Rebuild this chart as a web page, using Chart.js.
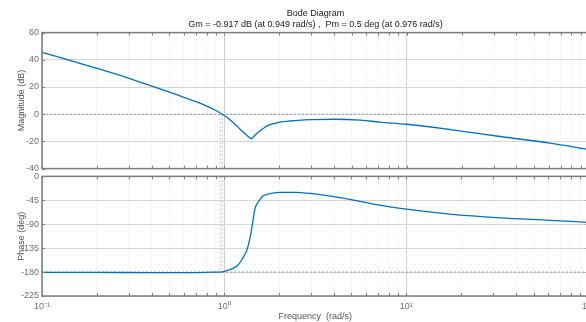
<!DOCTYPE html>
<html>
<head>
<meta charset="utf-8">
<script src="https://cdn.jsdelivr.net/npm/chart.js@4"></script>
<style>
  html, body { margin: 0; padding: 0; background: #fff; overflow: hidden; width: 586px; height: 322px; }
  #magCanvas { position: absolute; left: 0; top: 0; }
  #phaseCanvas { position: absolute; left: 0; top: 168px; }
</style>
</head>
<body>
<canvas id="magCanvas" width="600" height="177"></canvas>
<canvas id="phaseCanvas" width="600" height="155"></canvas>
<script>
// frequencies (rad/s) and values
var magFreq = [0.1, 0.15, 0.2, 0.3, 0.4, 0.5, 0.6, 0.7, 0.8, 0.9, 0.949, 0.976, 1.05, 1.145, 1.22, 1.3, 1.36, 1.413, 1.46, 1.54, 1.64, 1.74, 1.9, 2.06, 2.3, 2.54, 3.05, 4.0, 5.6, 7.1, 10, 17.3, 32.5, 61, 100];
var magDb   = [45.5, 38.6, 33.7, 26.4, 20.6, 16.2, 12.4, 9.2, 6.0, 2.7, 0.9, 0.0, -2.9, -7.4, -11.0, -14.4, -16.7, -18.1, -16.0, -13.1, -10.3, -8.2, -6.7, -5.7, -5.0, -4.5, -4.0, -3.7, -4.4, -5.8, -7.4, -11.3, -16.4, -21.3, -26.0];

var phaseFreq = [0.1, 0.2, 0.4, 0.6, 0.8, 0.9, 0.976, 1.05, 1.145, 1.2, 1.24, 1.29, 1.33, 1.36, 1.39, 1.43, 1.47, 1.5, 1.54, 1.63, 1.72, 1.81, 2.06, 2.44, 3.05, 4.0, 4.9, 7.1, 10, 17.3, 32.5, 61, 100];
var phaseDeg  = [-180.4, -180.7, -181.0, -181.0, -180.6, -180.0, -179.5, -176.5, -171.2, -165.5, -158.5, -148.5, -139.5, -128.0, -114.0, -89.0, -63.6, -54.0, -47.8, -37.0, -33.8, -32.0, -30.2, -30.0, -32.5, -38.0, -43.3, -54.0, -61.7, -71.0, -78.0, -82.6, -86.5];

var xMajorValues = [0.1, 1, 10, 100];
var xTickLabels = ['10\u207B\u00B9', '10\u2070', '10\u00B9', '10\u00B2'];
var gmFreq = 0.949;
var pmFreq = 0.976;

var blue = '#0072BD';
var font = "'Liberation Sans', Arial, sans-serif";

function isMajor(v) {
  var l = Math.log10(v);
  return Math.abs(l - Math.round(l)) < 1e-6;
}

// 1..9 x 10^n grid positions between 0.1 and 100
var xGridValues = [];
for (var e = -1; e < 2; e++) {
  for (var k = 1; k < 10; k++) xGridValues.push(+(k * Math.pow(10, e)).toPrecision(3));
}
xGridValues.push(100);

function pts(xs, ys) {
  return xs.map(function(x, i) { return {x: x, y: ys[i]}; });
}

var boxPlugin = {
  id: 'box',
  afterDraw: function(chart) {
    var ctx = chart.ctx, a = chart.chartArea, sx = chart.scales.x, sy = chart.scales.y;
    ctx.save();
    ctx.strokeStyle = '#7d7d7d';
    ctx.lineWidth = 1;
    ctx.beginPath();
    sx.ticks.forEach(function(t) {
      var px = Math.round(sx.getPixelForValue(t.value)) + 0.5;
      ctx.moveTo(px, a.top); ctx.lineTo(px, a.top + 3);
      ctx.moveTo(px, a.bottom); ctx.lineTo(px, a.bottom - 3);
    });
    sy.ticks.forEach(function(t) {
      var py = Math.round(sy.getPixelForValue(t.value)) + 0.5;
      ctx.moveTo(a.left, py); ctx.lineTo(a.left + 3, py);
      ctx.moveTo(a.right, py); ctx.lineTo(a.right - 3, py);
    });
    ctx.stroke();
    ctx.lineWidth = 1.5;
    ctx.strokeRect(a.left, a.top, a.right - a.left, a.bottom - a.top);
    ctx.restore();
  }
};

function xScale(showLabels, height) {
  return {
    type: 'logarithmic',
    min: 0.1,
    max: 100,
    afterBuildTicks: function(s) {
      s.ticks = xGridValues.map(function(v) { return {value: v, major: isMajor(v)}; });
    },
    afterFit: function(s) { s.height = height; },
    grid: {
      drawTicks: false,
      color: function(c) { return c.tick && isMajor(c.tick.value) ? '#cfcfcf' : '#e4e4e4'; }
    },
    border: {
      display: false,
      dash: function(c) { return c.tick && !isMajor(c.tick.value) ? [1, 2] : []; }
    },
    ticks: {
      display: showLabels,
      autoSkip: false,
      maxRotation: 0,
      padding: 5,
      color: '#6e6e6e',
      font: {family: font, size: 9},
      callback: function(v) {
        var i = xMajorValues.findIndex(function(m) { return Math.abs(m - v) < 1e-9; });
        return i >= 0 ? xTickLabels[i] : '';
      }
    },
    title: {
      display: showLabels,
      text: 'Frequency  (rad/s)',
      color: '#555',
      font: {family: font, size: 9},
      padding: {top: 0, bottom: 1}
    }
  };
}

function yScale(min, max, step, label) {
  return {
    min: min,
    max: max,
    afterFit: function(s) { s.width = 42; },
    grid: {drawTicks: false, color: '#d6d6d6'},
    border: {display: false},
    ticks: {
      stepSize: step,
      padding: 3,
      color: '#6e6e6e',
      font: {family: font, size: 9}
    },
    title: {
      display: true,
      text: label,
      color: '#555',
      font: {family: font, size: 9},
      padding: {top: 16, bottom: 0}
    }
  };
}

new Chart(document.getElementById('magCanvas').getContext('2d'), {
  type: 'line',
  data: {
    datasets: [{
      data: pts(magFreq, magDb),
      borderColor: blue,
      borderWidth: 1.3,
      pointRadius: 0,
      cubicInterpolationMode: 'monotone'
    }, {
      data: [{x: 0.1, y: 0}, {x: 100, y: 0}],
      borderColor: '#9a9a9a',
      borderWidth: 1,
      borderDash: [2, 2],
      pointRadius: 0
    }, {
      data: [{x: gmFreq, y: 0}, {x: gmFreq, y: -40}],
      borderColor: '#c4c4c4',
      borderWidth: 1,
      borderDash: [2, 2],
      pointRadius: 0
    }, {
      data: [{x: pmFreq, y: 0}, {x: pmFreq, y: -40}],
      borderColor: '#c4c4c4',
      borderWidth: 1,
      borderDash: [2, 2],
      pointRadius: 0
    }]
  },
  options: {
    responsive: false,
    animation: false,
    layout: {padding: {left: 0, right: 11, top: 0, bottom: 0}},
    plugins: {
      legend: {display: false},
      tooltip: {enabled: false},
      title: {
        display: true,
        fullSize: false,
        text: 'Bode Diagram',
        color: '#1a1a1a',
        font: {family: font, size: 9, weight: 'normal'},
        padding: {top: 8, bottom: 0}
      },
      subtitle: {
        display: true,
        fullSize: false,
        text: 'Gm = -0.917 dB (at 0.949 rad/s) ,  Pm = 0.5 deg (at 0.976 rad/s)',
        color: '#1a1a1a',
        font: {family: font, size: 9},
        padding: {top: 0, bottom: 3}
      }
    },
    scales: {
      x: xScale(false, 4),
      y: yScale(-40, 60, 20, 'Magnitude (dB)')
    }
  },
  plugins: [boxPlugin]
});

new Chart(document.getElementById('phaseCanvas').getContext('2d'), {
  type: 'line',
  data: {
    datasets: [{
      data: pts(phaseFreq, phaseDeg),
      borderColor: blue,
      borderWidth: 1.3,
      pointRadius: 0,
      cubicInterpolationMode: 'monotone'
    }, {
      data: [{x: 0.1, y: -180}, {x: 100, y: -180}],
      borderColor: '#9a9a9a',
      borderWidth: 1,
      borderDash: [2, 2],
      pointRadius: 0
    }, {
      data: [{x: gmFreq, y: 0}, {x: gmFreq, y: -180}],
      borderColor: '#c4c4c4',
      borderWidth: 1,
      borderDash: [2, 2],
      pointRadius: 0
    }, {
      data: [{x: pmFreq, y: 0}, {x: pmFreq, y: -180}],
      borderColor: '#c4c4c4',
      borderWidth: 1,
      borderDash: [2, 2],
      pointRadius: 0
    }]
  },
  options: {
    responsive: false,
    animation: false,
    layout: {padding: {left: 0, right: 11, top: 0, bottom: 0}},
    plugins: {
      legend: {display: false},
      tooltip: {enabled: false}
    },
    scales: {
      x: xScale(true, 27),
      y: yScale(-225, 0, 45, 'Phase (deg)')
    }
  },
  plugins: [boxPlugin]
});
</script>
</body>
</html>
